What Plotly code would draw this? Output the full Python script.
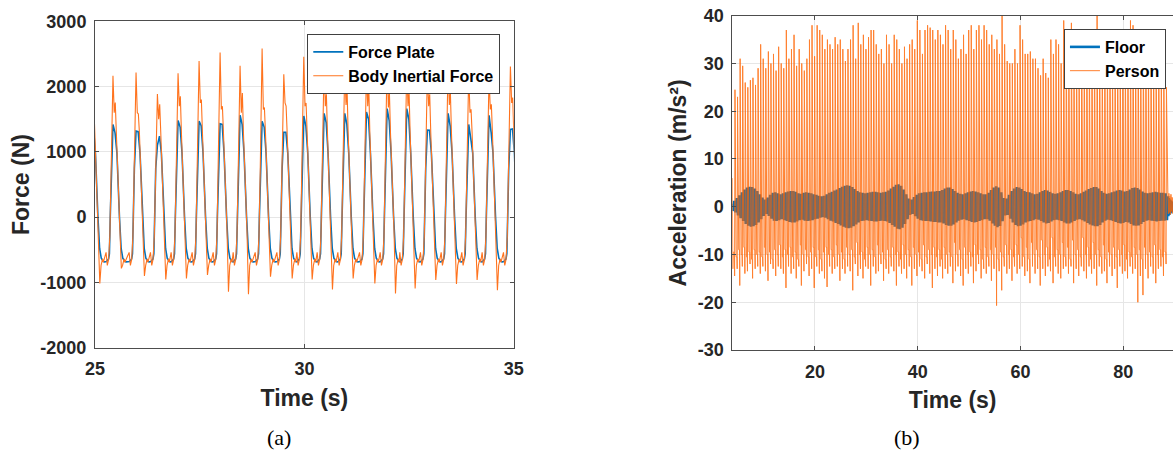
import plotly.graph_objects as go

# ---------------- Panel (a): force comparison, 25-35 s ----------------
a_peak_time = [24.93, 25.444, 25.995, 26.505, 26.998, 27.5, 28.002, 28.479, 29.005, 29.523,
               30.0, 30.485, 30.979, 31.497, 31.99, 32.459, 32.952, 33.446, 33.939, 34.424, 34.934]
fp_top_a = [1400, 1420, 1318, 1100, 1480, 1470, 1430, 1560, 1470, 1300,
            1549, 1590, 1590, 1610, 1662, 1662, 1333, 1590, 1420, 1560, 1344]
fp_top_b = [1350, 1290, 1310, 1240, 1380, 1400, 1420, 1420, 1380, 1300,
            1400, 1450, 1420, 1500, 1480, 1500, 1330, 1400, 1200, 1300, 1350]
bif_peak = [2200, 2164, 2215, 1887, 2205, 2390, 2523, 2318, 2585, 2190,
            2456, 2350, 2300, 2250, 2400, 2300, 2250, 2350, 2200, 2150, 2308]
bif_mid = [1600, 1600, 1600, 1500, 1700, 1750, 1650, 1600, 1650, 1750,
           1700, 1700, 1720, 1700, 1680, 1700, 1700, 1720, 1600, 1650, 1750]
bif_shoulder = [1750, 1754, 1580, 1730, 1850, 1800, 1700, 1900, 1680, 1700,
                1750, 1882, 1959, 2010, 1908, 1933, 1882, 1908, 1651, 1728, 1831]
bif_dip = [-1015, -785, -900, -955, -940, -887, -1143, -1180, -913, -940,
           -955, -1108, -940, -1015, -1170, -1092, -964, -1025, -964, -1118, -900]
a_x_ticks = [25, 30, 35]
a_y_ticks = [-2000, -1000, 0, 1000, 2000, 3000]
a_y_ticklabels = ["-2000", "-1000", "0", "1000", "2000", "3000"]

# within-cycle shape (offset from force-plate peak, s) with level values
fp_shape_dt = [-0.17, -0.12, -0.10, -0.08, -0.055, -0.015, 0.035, 0.08, 0.14, 0.18, 0.22, 0.27, 0.30]
fp_low_levels = [-680, -640, -560, 0, 750, None, None, 980, 0, -480, -630, -680, -685]
bif_shape_dt = [-0.18, -0.15, -0.12, -0.09, -0.06, -0.035, -0.015, 0.015, 0.04, 0.065,
                0.11, 0.15, 0.185, 0.215, 0.25, 0.27]
bif_levels = [-540, -740, -650, -300, 700, 1500, None, None, None, 1300,
              500, -200, None, -740, -640, -690]

# ---------------- Panel (b): accelerations, jumping test ----------------
CYCLE_START = 4.15
CYCLE_PERIOD = 0.5
person_peak = [
    24.5, 23.0, 31.0, 29.5, 26.0, 25.0, 26.5, 27.0, 25.5, 29.0,
    34.0, 31.0, 29.0, 32.5, 30.0, 32.0, 28.5, 33.5, 30.0, 29.0,
    37.0, 31.0, 33.0, 36.0, 29.5, 33.0, 30.0, 28.5, 31.0, 35.0,
    38.0, 31.5, 38.0, 37.0, 36.0, 33.0, 35.0, 34.0, 33.0, 35.5,
    34.0, 35.0, 33.0, 30.5, 33.0, 35.0, 38.0, 31.0, 38.5, 34.0,
    36.0, 33.0, 35.5, 37.0, 37.0, 34.0, 32.0, 33.0, 30.0, 36.0,
    34.0, 30.0, 36.0, 35.0, 33.0, 30.0, 33.5, 31.0, 34.0, 35.0,
    33.0, 39.0, 37.0, 32.0, 37.0, 38.0, 37.5, 37.0, 35.0, 37.0,
    36.0, 34.0, 38.0, 37.0, 33.0, 37.0, 35.0, 31.0, 33.0, 36.0,
    32.0, 37.0, 38.0, 33.0, 37.0, 38.0, 35.0, 38.0, 37.0, 34.0,
    36.0, 33.0, 35.0, 32.0, 40.0, 34.0, 30.5, 30.0, 30.0, 33.0,
    30.0, 38.0, 35.0, 32.0, 32.0, 32.5, 31.0, 31.0, 29.0, 27.5,
    31.0, 28.0, 27.0, 35.0, 32.0, 35.0, 34.0, 30.0, 39.0, 37.0,
    34.0, 38.5, 33.0, 35.0, 31.0, 36.0, 34.0, 37.0, 33.0, 35.0,
    36.0, 40.0, 35.0, 33.0, 37.0, 34.0, 36.0, 32.0, 35.0, 33.0,
    34.0, 36.0, 33.0, 35.0, 39.0, 38.0, 34.0, 36.0, 33.0, 35.0,
    34.0, 32.0, 35.0, 33.0, 31.0, 33.0, 30.0, 27.0, 25.0]
person_dip = [
    -14.5, -13.0, -16.5, -12.5, -14.0, -13.5, -12.0, -15.0, -13.0, -12.5,
    -14.0, -12.5, -13.5, -15.5, -12.0, -13.0, -14.5, -12.5, -13.0, -14.0,
    -17.0, -12.5, -14.0, -13.0, -15.0, -12.5, -16.5, -13.5, -12.0, -14.5,
    -13.0, -17.0, -12.5, -14.0, -13.5, -15.0, -16.8, -12.5, -14.0, -13.0,
    -12.5, -15.5, -13.0, -14.0, -12.5, -13.5, -17.5, -12.0, -14.5, -13.0,
    -15.0, -12.5, -13.0, -16.5, -12.5, -14.0, -13.5, -12.0, -15.5, -13.0,
    -14.0, -12.5, -13.5, -16.5, -12.5, -14.0, -13.0, -15.0, -12.5, -16.5,
    -13.0, -14.5, -12.5, -13.5, -15.0, -12.0, -14.0, -17.0, -13.0, -14.5,
    -12.5, -15.0, -13.0, -14.0, -12.5, -16.0, -13.5, -12.5, -14.5, -16.5,
    -13.0, -14.0, -12.5, -16.0, -13.5, -12.0, -15.0, -13.0, -14.0, -12.5,
    -15.5, -13.0, -20.7, -13.5, -17.5, -12.5, -14.0, -13.0, -15.5, -12.5,
    -14.0, -13.0, -12.5, -14.5, -13.5, -16.0, -12.5, -14.0, -13.0, -16.5,
    -13.0, -14.5, -12.5, -13.5, -16.0, -12.5, -14.0, -15.0, -13.0, -12.5,
    -14.0, -12.5, -16.0, -13.0, -14.5, -12.5, -13.5, -15.0, -12.5, -14.0,
    -13.0, -16.5, -12.5, -14.0, -13.5, -16.0, -12.5, -14.5, -13.0, -17.0,
    -12.5, -14.0, -13.5, -15.0, -12.5, -14.0, -13.0, -20.0, -14.5, -18.5,
    -13.0, -15.0, -12.5, -14.0, -16.0, -13.0, -12.5, -14.5, -12.0]
person_flight = [
    -9.5, -10.5, -9.0, -10.0, -8.5, -10.5, -9.5, -11.0, -9.0, -10.0,
    -9.5, -10.5, -8.5, -10.0, -9.5, -11.0, -9.0, -10.0, -8.0, -10.5,
    -9.0, -10.0, -8.5, -10.5, -9.5, -11.0, -8.0, -10.0, -9.0, -10.5,
    -9.5, -8.5, -10.5, -9.0, -11.0, -9.5, -8.5, -10.0, -9.0, -10.5,
    -8.0, -10.0, -9.5, -11.0, -8.5, -10.0, -9.0, -10.5, -7.5, -10.0,
    -9.5, -11.0, -8.5, -10.0, -9.0, -10.5, -8.0, -10.0, -9.5, -11.0,
    -9.0, -10.5, -8.5, -10.0, -9.5, -11.0, -8.0, -10.0, -9.0, -10.5,
    -8.5, -10.0, -9.5, -11.0, -8.0, -10.5, -9.0, -10.0, -8.5, -10.5,
    -9.0, -11.0, -8.5, -10.0, -9.5, -10.5, -7.5, -10.0, -9.0, -11.0,
    -8.5, -10.0, -9.5, -10.5, -8.0, -10.0, -9.0, -11.0, -8.5, -10.5,
    -9.0, -10.0, -8.5, -11.0, -9.5, -10.5, -8.0, -10.0, -9.0, -10.5,
    -8.0, -10.0, -6.5, -10.5, -8.5, -11.0, -7.5, -10.0, -9.0, -10.5,
    -7.0, -10.0, -8.5, -11.0, -6.5, -10.5, -9.0, -10.0, -7.5, -10.5,
    -8.5, -11.0, -7.0, -10.0, -9.0, -10.5, -6.5, -10.0, -8.5, -11.0,
    -7.5, -10.0, -9.0, -10.5, -8.0, -11.0, -9.5, -10.0, -8.5, -10.5,
    -9.0, -10.0, -8.0, -11.0, -9.5, -10.5, -8.5, -10.0, -9.0, -11.0,
    -8.5, -10.0, -9.5, -10.5, -8.0, -10.0, -9.0, -10.5, -9.5]
floor_amp = [
    1.2, 1.8, 2.4, 3.0, 3.6, 4.0, 4.2, 4.1, 3.8, 3.3,
    2.6, 1.9, 1.5, 1.9, 2.5, 2.9, 3.0, 2.8, 2.6, 2.8,
    3.0, 3.2, 3.3, 3.3, 3.1, 2.8, 2.7, 2.9, 3.0, 2.9,
    2.8, 2.6, 2.5, 2.3, 2.2, 2.3, 2.6, 2.9, 3.1, 3.4,
    3.6, 3.9, 4.2, 4.4, 4.5, 4.4, 4.1, 3.7, 3.3, 3.0,
    2.9, 2.8, 2.9, 3.0, 3.1, 3.1, 3.0, 2.9, 3.0, 3.1,
    3.4, 3.8, 4.2, 4.6, 4.7, 4.4, 3.6, 2.6, 1.7, 1.5,
    2.0, 2.5, 2.8, 2.9, 3.0, 3.0, 3.1, 3.2, 3.2, 3.3,
    3.3, 3.5, 3.8, 4.0, 4.0, 3.7, 3.3, 2.9, 2.7, 2.6,
    2.8, 3.0, 3.2, 3.3, 3.2, 3.0, 2.8, 2.6, 2.6, 2.9,
    3.5, 4.0, 4.3, 4.0, 3.0, 1.8, 1.7, 2.5, 3.3, 3.8,
    4.1, 4.0, 3.7, 3.3, 3.1, 3.0, 2.8, 2.6, 2.7, 3.0,
    3.3, 3.5, 3.4, 3.1, 2.8, 2.7, 2.8, 3.0, 3.3, 3.5,
    3.5, 3.3, 3.0, 2.7, 2.6, 2.8, 3.1, 3.4, 3.7, 3.9,
    4.1, 4.1, 3.8, 3.3, 2.9, 2.7, 2.8, 3.0, 3.2, 3.4,
    3.5, 3.4, 3.2, 3.3, 3.6, 3.9, 4.0, 3.9, 3.6, 3.2,
    2.9, 2.8, 2.9, 3.0, 3.1, 3.0, 2.9, 2.9, 2.8]
lead_time = [3.9, 4.0, 4.08]
lead_person = [6.0, -13.0, -9.5]
lead_floor = [0.0, 0.6, -0.9]
tail_time = [88.7, 88.8, 88.9, 89.0, 89.1, 89.2, 89.3, 89.4, 89.5, 89.6, 89.7, 89.8]
tail_person = [2.5, -1.5, 2.8, -1.2, 2.2, -1.6, 2.6, -1.0, 2.0, -1.4, 1.8, -1.0]
tail_floor = [2.2, -2.0, 1.8, -1.7, 1.5, -1.4, 1.3, -1.2, 1.1, -1.0, 0.9, -0.8]
b_x_ticks = [20, 40, 60, 80]
b_y_ticks = [-30, -20, -10, 0, 10, 20, 30, 40]
b_y_ticklabels = ["-30", "-20", "-10", "0", "10", "20", "30", "40"]

# ---------------- build traces ----------------
fp_t, fp_v, bif_t, bif_v = [], [], [], []
for i, p in enumerate(a_peak_time):
    for dt, lv in zip(fp_shape_dt, fp_low_levels):
        fp_t.append(p + dt)
        if lv is None:
            lv = fp_top_a[i] if dt < 0 else fp_top_b[i]
        fp_v.append(lv)
    for j, (dt, lv) in enumerate(zip(bif_shape_dt, bif_levels)):
        bif_t.append(p + dt)
        if lv is None:
            lv = {6: bif_peak[i], 7: bif_mid[i], 8: bif_shoulder[i], 12: bif_dip[i]}[j]
        bif_v.append(lv)

per_t, per_v = list(lead_time), list(lead_person)
fl_t, fl_v = list(lead_time), list(lead_floor)
for k in range(len(person_peak)):
    c = CYCLE_START + CYCLE_PERIOD * k
    per_t += [c, c + 0.15, c + 0.2, c + 0.27]
    per_v += [person_flight[k], person_flight[k], person_dip[k], person_peak[k]]
    fl_t += [c + 0.12, c + 0.37]
    fl_v += [floor_amp[k], -floor_amp[k]]
per_t += tail_time
per_v += tail_person
fl_t += tail_time
fl_v += tail_floor

BLUE = "rgb(0,114,189)"
ORANGE_A = "rgb(255,115,30)"
ORANGE_B = "rgb(255,100,0)"
FONT = "Liberation Sans"
AX = "#4d4d4d"
GRID = "#e6e6e6"

W, H = 1173, 466

fig = go.Figure()
fig.add_trace(go.Scatter(x=fp_t, y=fp_v, mode="lines", name="Force Plate",
                         line=dict(color=BLUE, width=1.6), xaxis="x", yaxis="y", legend="legend"))
fig.add_trace(go.Scatter(x=bif_t, y=bif_v, mode="lines", name="Body Inertial Force",
                         line=dict(color=ORANGE_A, width=1.1), xaxis="x", yaxis="y", legend="legend"))
fig.add_trace(go.Scatter(x=fl_t, y=fl_v, mode="lines", name="Floor",
                         line=dict(color=BLUE, width=2.6), xaxis="x2", yaxis="y2", legend="legend2"))
fig.add_trace(go.Scatter(x=per_t, y=per_v, mode="lines", name="Person", opacity=0.82,
                         line=dict(color=ORANGE_B, width=1), xaxis="x2", yaxis="y2", legend="legend2"))

tickfont = dict(family=FONT, size=18, color="#262626", weight="bold")
titlefont = dict(family=FONT, size=23, color="#262626", weight="bold")
common = dict(showline=True, linecolor=AX, linewidth=1, ticks="inside", ticklen=4,
              tickcolor=AX, showgrid=True, gridcolor=GRID, gridwidth=1, zeroline=False,
              tickfont=tickfont, automargin=False, ticklabeloverflow="allow")

fig.update_layout(
    template="none",
    width=W, height=H, margin=dict(l=0, r=0, t=0, b=0, pad=0),
    paper_bgcolor="white", plot_bgcolor="white", showlegend=True,
    xaxis=dict(domain=[0.08099, 0.43802], range=[25, 35], tickvals=a_x_ticks,
               mirror="ticks", anchor="y", ticklabelstandoff=5,
               title=dict(text="Time (s)", font=titlefont, standoff=11), **common),
    yaxis=dict(domain=[0.25386, 0.95429], range=[-2000, 3000], tickvals=a_y_ticks,
               ticktext=a_y_ticklabels, mirror="ticks", anchor="x", ticklabelstandoff=4,
               title=dict(text="Force (N)", font=titlefont, standoff=4), **common),
    xaxis2=dict(domain=[0.62430, 1.0], range=[3.9, 89.7], tickvals=b_x_ticks,
                mirror="ticks", anchor="y2", ticklabelstandoff=5,
                title=dict(text="Time (s)", font=titlefont, standoff=11), **common),
    yaxis2=dict(domain=[0.24893, 0.96631], range=[-30, 40.001], tickvals=b_y_ticks,
                ticktext=b_y_ticklabels, mirror=False, anchor="x2", ticklabelstandoff=4,
                title=dict(text="Acceleration (m/s²)", font=titlefont, standoff=4), **common),
    legend=dict(x=0.4265, xanchor="right", y=0.927, yanchor="top",
                bordercolor="#404040", borderwidth=1, bgcolor="white",
                font=dict(family=FONT, size=16, color="black", weight="bold"),
                itemwidth=30, tracegroupgap=0),
    legend2=dict(x=0.994, xanchor="right", y=0.9378, yanchor="top",
                 bordercolor="#404040", borderwidth=1, bgcolor="white",
                 font=dict(family=FONT, size=16, color="black", weight="bold"),
                 itemwidth=30, tracegroupgap=0),
    annotations=[
        dict(text="(a)", x=0.2255, y=0.030, xref="paper", yref="paper",
             showarrow=False, font=dict(family="Liberation Serif", size=22, color="black")),
        dict(text="(b)", x=0.7857, y=0.030, xref="paper", yref="paper",
             showarrow=False, font=dict(family="Liberation Serif", size=22, color="black")),
    ],
)

# remove the browser's default 8 px page margin so the figure fills the window
fig.write_html("out.html", config={"displayModeBar": False},
               post_script="document.body.style.margin='0px';document.body.style.overflow='hidden';")
